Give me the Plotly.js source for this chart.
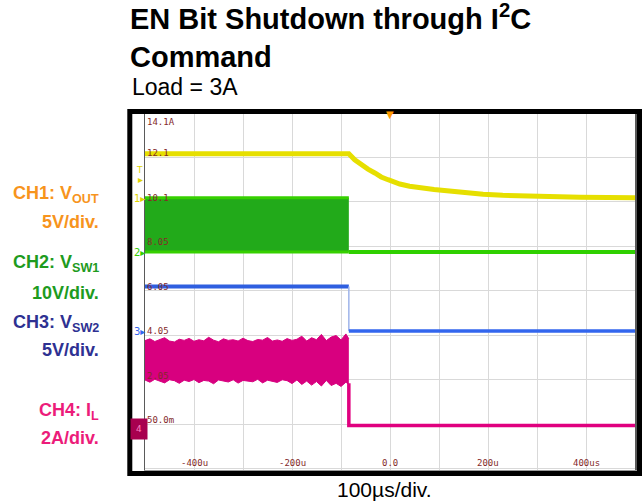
<!DOCTYPE html>
<html>
<head>
<meta charset="utf-8">
<script src="https://cdn.plot.ly/plotly-3.0.1.min.js"></script>
<style>html,body{margin:0;padding:0;background:#fff;}#chart{width:642px;height:502px;}</style>
</head>
<body>
<div id="chart"></div>
<script>
// ---------------- DATA (time in µs) ----------------
// CH1: VOUT (V), 5V/div
const voutT = [-500, -84, -72, -59, -45, -31, -18, -4, 10, 20, 40, 61, 90, 116, 157, 190, 230, 300, 388, 500];
const voutV = [5.03, 5.03, 4.35, 3.80, 3.30, 2.87, 2.42, 2.11, 1.82, 1.63, 1.38, 1.18, 1.02, 0.88, 0.62, 0.48, 0.36, 0.20, 0.13, 0.09];
const trigLevel = 2.1;

// CH2: VSW1 (V), 10V/div — switching envelope, then off
const sw1OnT = [-500, -84];
const sw1Hi = [12.2, 12.2];
const sw1Lo = [0.0, 0.0];
const sw1OffT = [-84, 500];
const sw1OffV = [0.0, 0.0];

// CH3: VSW2 (V), 5V/div
const sw2OnT = [-500, -84];
const sw2OnV = [5.0, 5.0];
const sw2EdgeT = [-84, -84];
const sw2EdgeV = [5.0, 0.0];
const sw2OffT = [-84, 500];
const sw2OffV = [0.0, 0.0];

// CH4: IL (A), 2A/div — ripple envelope, then off
const ilT = [-500, -490, -480, -470, -460, -450, -440, -430, -420, -410,
             -400, -390, -380, -370, -360, -350, -340, -330, -320, -310,
             -300, -290, -280, -270, -260, -250, -240, -230, -220, -210,
             -200, -190, -180, -170, -160, -150, -140, -130, -120, -110,
             -100, -90, -84];
const ilHi = [3.82, 3.90, 3.78, 3.85, 3.95, 3.80, 3.76, 3.88, 3.83, 3.92,
              3.79, 3.86, 3.81, 3.97, 3.84, 3.77, 3.90, 3.83, 3.86, 3.80,
              3.93, 3.82, 3.78, 3.87, 3.84, 3.96, 3.80, 3.85, 3.79, 3.91,
              3.83, 3.88, 4.02, 3.80, 3.95, 3.86, 4.10, 3.82, 3.98, 4.05,
              3.85, 4.12, 3.90];
const ilLo = [2.05, 1.95, 2.08, 2.00, 1.92, 2.06, 2.02, 1.90, 2.04, 1.98,
              2.07, 1.93, 2.03, 2.00, 1.88, 2.05, 2.01, 1.96, 2.06, 1.91,
              2.03, 2.00, 1.97, 2.08, 1.92, 2.04, 1.99, 1.94, 2.06, 2.02,
              1.89, 2.05, 1.85, 2.00, 1.82, 1.98, 1.78, 2.03, 1.80, 1.90,
              1.76, 1.95, 1.85];
const ilOffT = [-84, -84, 500];
const ilOffV = [1.9, 0.0, 0.0];

// Graticule labels (CH4 scale) and time labels
const ch4GridVals = [0.05, 2.05, 4.05, 6.05, 8.05, 10.05, 12.05];
const ch4GridText = ['50.0m', '2.05', '4.05', '6.05', '8.05', '10.1', '12.1'];
const ch4TopText = '14.1A';
const timeLabelVals = [-400, -200, 0, 200, 400];
const timeLabelText = ['-400u', '-200u', '0.0', '200u', '400us'];

const chLabels = [
  {text: '<b>CH1: V<sub>OUT</sub></b>', color: '#f7941d', ypx: 194.5},
  {text: '<b>5V/div.</b>', color: '#f7941d', ypx: 222},
  {text: '<b>CH2: V<sub>SW1</sub></b>', color: '#1e9b1e', ypx: 263.5},
  {text: '<b>10V/div.</b>', color: '#1e9b1e', ypx: 293},
  {text: '<b>CH3: V<sub>SW2</sub></b>', color: '#2e3192', ypx: 323},
  {text: '<b>5V/div.</b>', color: '#2e3192', ypx: 350},
  {text: '<b>CH4: I<sub>L</sub></b>', color: '#ec1c7a', ypx: 411},
  {text: '<b>2A/div.</b>', color: '#ec1c7a', ypx: 438}
];

// ---------------- LAYOUT GEOMETRY ----------------
const W = 642, H = 502;
const L = 145, R = 635, T = 114, B = 470;
const px2x = x => (x - L) / (R - L);
const px2y = y => (B - y) / (B - T);
const divPx = (B - T) / 8;
// channel axis ranges from ground pixel and units/div
function chRange(groundPx, perDiv) {
  const u = perDiv / divPx;
  return [-(B - groundPx) * u, (groundPx - T) * u];
}

const mono = 'DejaVu Sans Mono, monospace';
const sans = 'Liberation Sans, Arial, sans-serif';
const labelRed = '#842a2a';

const traces = [
  // CH2 VSW1
  {x: sw1OnT, y: sw1Lo, yaxis: 'y3', mode: 'lines', line: {color: '#36d000', width: 3}, hoverinfo: 'skip'},
  {x: sw1OnT, y: sw1Hi, yaxis: 'y3', mode: 'lines', fill: 'tonexty', fillcolor: '#22aa1a', line: {color: '#36d000', width: 3}, hoverinfo: 'skip'},
  {x: sw1OffT, y: sw1OffV, yaxis: 'y3', mode: 'lines', line: {color: '#2fd000', width: 4}, hoverinfo: 'skip'},
  // CH3 VSW2
  {x: sw2OnT, y: sw2OnV, yaxis: 'y4', mode: 'lines', line: {color: '#2f5fe0', width: 4}, hoverinfo: 'skip'},
  {x: sw2EdgeT, y: sw2EdgeV, yaxis: 'y4', mode: 'lines', line: {color: '#9fb4ea', width: 1.5}, hoverinfo: 'skip'},
  {x: sw2OffT, y: sw2OffV, yaxis: 'y4', mode: 'lines', line: {color: '#3366ee', width: 3.5}, hoverinfo: 'skip'},
  // CH4 IL
  {x: ilT, y: ilLo, yaxis: 'y', mode: 'lines', line: {color: '#d8007f', width: 1}, hoverinfo: 'skip'},
  {x: ilT, y: ilHi, yaxis: 'y', mode: 'lines', fill: 'tonexty', fillcolor: '#d8007f', line: {color: '#d8007f', width: 1}, hoverinfo: 'skip'},
  {x: ilOffT, y: ilOffV, yaxis: 'y', mode: 'lines', line: {color: '#e0007f', width: 3.5}, hoverinfo: 'skip'},
  // CH1 VOUT
  {x: voutT, y: voutV, yaxis: 'y2', mode: 'lines', line: {color: '#e6df00', width: 5}, hoverinfo: 'skip'}
];

const annotations = [];
// CH4 graticule labels
ch4GridVals.forEach((v, i) => {
  annotations.push({xref: 'paper', yref: 'y', x: 0, y: v, xanchor: 'left', yanchor: 'bottom',
    text: ch4GridText[i], showarrow: false, yshift: -3, xshift: 0,
    font: {family: mono, size: 9, color: labelRed}});
});
annotations.push({xref: 'paper', yref: 'paper', x: 0, y: 1, xanchor: 'left', yanchor: 'top',
  text: ch4TopText, showarrow: false, yshift: -1,
  font: {family: mono, size: 9, color: labelRed}});
// time labels
timeLabelVals.forEach((v, i) => {
  annotations.push({xref: 'x', yref: 'paper', x: v, y: 0, xanchor: 'center', yanchor: 'bottom',
    text: timeLabelText[i], showarrow: false, yshift: 0,
    font: {family: mono, size: 9, color: labelRed}});
});
// channel labels at left
chLabels.forEach(c => {
  annotations.push({xref: 'paper', yref: 'paper', x: px2x(101), y: px2y(c.ypx), xanchor: 'right', yanchor: 'middle',
    text: c.text, showarrow: false, font: {family: sans, size: 18, color: c.color}});
});
// subtitle and time scale
annotations.push({xref: 'paper', yref: 'paper', x: px2x(130), y: px2y(87), xanchor: 'left', yanchor: 'middle',
  text: 'Load = 3A', showarrow: false, font: {family: sans, size: 23, color: '#000'}});
annotations.push({xref: 'paper', yref: 'paper', x: px2x(384), y: px2y(489.5), xanchor: 'center', yanchor: 'middle',
  text: '100µs/div.', showarrow: false, font: {family: sans, size: 21, color: '#000'}});
// scope channel markers
annotations.push({xref: 'paper', yref: 'y2', x: px2x(139), y: 0, xanchor: 'center', yanchor: 'middle',
  text: '1▸', showarrow: false, font: {family: 'DejaVu Sans', size: 10, color: '#e0d400'}});
annotations.push({xref: 'paper', yref: 'y2', x: px2x(140), y: trigLevel, xanchor: 'center', yanchor: 'middle',
  text: '▸', showarrow: false, font: {family: 'DejaVu Sans', size: 10, color: '#e0d400'}});
annotations.push({xref: 'paper', yref: 'y2', x: px2x(139), y: trigLevel, xanchor: 'center', yanchor: 'bottom',
  text: 'T', showarrow: false, yshift: 3, font: {family: 'DejaVu Sans', size: 9, color: '#e0d400'}});
annotations.push({xref: 'paper', yref: 'y3', x: px2x(139), y: 0, xanchor: 'center', yanchor: 'middle',
  text: '2▸', showarrow: false, font: {family: 'DejaVu Sans', size: 10, color: '#33cc00'}});
annotations.push({xref: 'paper', yref: 'y4', x: px2x(139), y: 0, xanchor: 'center', yanchor: 'middle',
  text: '3▸', showarrow: false, font: {family: 'DejaVu Sans', size: 10, color: '#3366ee'}});
annotations.push({xref: 'paper', yref: 'y', x: px2x(138.5), y: 0, xanchor: 'center', yanchor: 'middle',
  text: '4', showarrow: false, yshift: -3, bgcolor: '#a8004f', borderpad: 5, width: 6,
  font: {family: 'DejaVu Sans', size: 9, color: '#ff7fbf'}});
annotations.push({xref: 'x', yref: 'paper', x: 0, y: 1, xanchor: 'center', yanchor: 'middle',
  text: '▼', showarrow: false, yshift: 0, font: {family: 'DejaVu Sans', size: 10, color: '#ff9a00'}});

const gridColor = '#d9d9d9';
const layout = {
  width: W, height: H,
  margin: {l: L, r: W - R, t: T, b: H - B, pad: 0},
  paper_bgcolor: '#ffffff', plot_bgcolor: '#ffffff',
  showlegend: false,
  title: {
    text: '<b>EN Bit Shutdown through I<sup>2</sup>C<br>Command</b>',
    font: {family: sans, size: 29, color: '#000'},
    x: 130 / W, xref: 'container', xanchor: 'left',
    y: 1 - 29 / H, yref: 'container', yanchor: 'top'
  },
  xaxis: {range: [-500, 500], tick0: 0, dtick: 100, showgrid: true, gridcolor: gridColor, gridwidth: 1,
          zeroline: false, showticklabels: false, ticks: '', showline: true, linecolor: '#9a9a9a', linewidth: 1.5,
          fixedrange: true},
  yaxis: {range: chRange(425.6, 2), tick0: 0.05, dtick: 2, showgrid: true, gridcolor: gridColor, gridwidth: 1,
          zeroline: false, showticklabels: false, ticks: '', showline: true, linecolor: '#5a5a5a', linewidth: 1.5,
          mirror: true, fixedrange: true},
  yaxis2: {overlaying: 'y', range: chRange(198.5, 5), visible: false, fixedrange: true},
  yaxis3: {overlaying: 'y', range: chRange(252, 10), visible: false, fixedrange: true},
  yaxis4: {overlaying: 'y', range: chRange(331, 5), visible: false, fixedrange: true},
  // centre-line minor ticks
  xaxis2: {overlaying: 'x', anchor: 'free', position: 0.5, range: [-500, 500], tick0: 0, dtick: 25,
           ticks: 'inside', ticklen: 3, tickcolor: '#cccccc', showgrid: false, showticklabels: false,
           showline: false, zeroline: false, fixedrange: true},
  xaxis3: {overlaying: 'x', anchor: 'free', position: 0.5, range: [-500, 500], tick0: 0, dtick: 25,
           ticks: 'outside', ticklen: 3, tickcolor: '#cccccc', showgrid: false, showticklabels: false,
           showline: false, zeroline: false, fixedrange: true},
  yaxis5: {overlaying: 'y', anchor: 'free', position: 0.5, range: chRange(425.6, 2), tick0: 0.05, dtick: 0.4,
           ticks: 'inside', ticklen: 3, tickcolor: '#cccccc', showgrid: false, showticklabels: false,
           showline: false, zeroline: false, fixedrange: true},
  yaxis6: {overlaying: 'y', anchor: 'free', position: 0.5, range: chRange(425.6, 2), tick0: 0.05, dtick: 0.4,
           ticks: 'outside', ticklen: 3, tickcolor: '#cccccc', showgrid: false, showticklabels: false,
           showline: false, zeroline: false, fixedrange: true},
  shapes: [
    {type: 'rect', xref: 'paper', yref: 'paper', layer: 'above',
     x0: px2x(129.8), x1: px2x(639.5), y0: px2y(473.5), y1: px2y(111.5),
     line: {color: '#000000', width: 5}, fillcolor: 'rgba(0,0,0,0)'}
  ],
  annotations: annotations
};

Plotly.newPlot('chart', traces, layout, {displayModeBar: false, staticPlot: true});
</script>
</body>
</html>
